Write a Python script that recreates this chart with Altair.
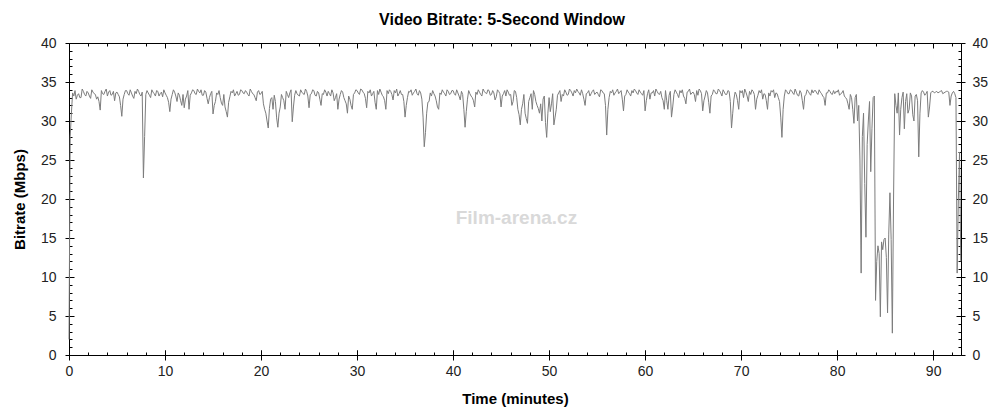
import altair as alt
import pandas as pd

# Video bitrate (Mbps), readings at every 0.25 minute
bitrate = [
    2.0, 31.0, 33.2, 32.8, 33.5, 33.0, 33.8, 33.2, 33.6, 32.9, 33.7, 33.4, 33.1, 31.4, 33.5, 33.8, 33.2, 33.9, 33.4, 32.6,
    33.7, 33.1, 30.6, 33.4, 33.9, 33.3, 33.6, 32.9, 33.5, 33.8, 33.2, 22.7, 33.4, 33.6, 33.0, 33.7, 33.2, 33.8, 33.5, 33.1,
    33.6, 33.0, 31.2, 33.4, 33.7, 32.5, 33.3, 32.0, 31.7, 33.2, 31.5, 33.6, 33.9, 33.4, 33.8, 34.0, 33.3, 33.7, 32.2, 33.5,
    30.9, 32.5, 33.4, 33.0, 32.0, 31.8, 30.5, 33.1, 33.6, 33.2, 33.8, 33.4, 33.9, 33.5, 33.7, 33.2, 33.8, 33.4, 32.6, 33.9,
    33.5, 32.2, 31.0, 29.1, 32.8, 31.5, 32.5, 29.2, 31.8, 33.0, 31.5, 33.4, 33.6, 29.9, 33.3, 33.5, 33.2, 33.7, 33.4, 33.8,
    31.7, 33.5, 33.9, 33.2, 33.6, 32.0, 33.4, 33.7, 33.8, 33.2, 33.6, 33.0, 31.5, 33.4, 33.7, 32.6, 31.0, 32.8, 31.5, 33.6,
    33.9, 33.4, 34.0, 33.5, 31.7, 33.6, 33.2, 33.8, 31.5, 33.4, 33.7, 33.1, 31.5, 33.5, 33.8, 32.7, 33.6, 33.2, 33.9, 33.4,
    30.5, 33.0, 33.7, 33.3, 33.8, 33.5, 33.9, 32.8, 26.7, 31.0, 32.5, 33.2, 33.5, 32.6, 31.5, 33.4, 33.7, 33.2, 33.8, 33.5,
    33.9, 33.3, 33.6, 32.7, 33.4, 29.2, 32.8, 33.5, 33.0, 31.8, 33.4, 33.7, 33.2, 33.8, 33.5, 33.9, 33.4, 33.6, 33.1, 33.8,
    31.8, 33.5, 33.2, 33.7, 33.4, 32.5, 33.8, 31.5, 29.5, 32.2, 31.0, 29.7, 33.0, 31.5, 33.4, 32.0, 31.0, 30.0, 33.2, 27.9,
    33.0, 32.2, 29.5, 31.5, 33.6, 32.5, 33.2, 33.7, 33.4, 33.9, 33.2, 33.6, 33.8, 33.3, 33.5, 32.0, 33.6, 33.2, 33.8, 33.4,
    33.7, 33.1, 33.9, 33.5, 28.2, 33.0, 33.6, 33.3, 33.8, 33.5, 33.9, 31.3, 33.4, 33.7, 33.2, 33.6, 33.9, 33.4, 33.7, 33.3,
    31.3, 33.5, 32.8, 33.6, 33.2, 33.8, 33.4, 33.0, 31.5, 32.6, 33.3, 30.5, 33.4, 33.7, 33.0, 33.6, 33.2, 32.2, 33.8, 33.4,
    33.7, 32.5, 33.3, 33.9, 31.3, 33.2, 33.6, 31.0, 33.4, 33.8, 33.5, 33.9, 33.2, 33.7, 33.4, 33.8, 29.1, 32.8, 33.4, 31.5,
    33.6, 33.0, 33.7, 32.5, 33.4, 33.8, 31.5, 33.3, 33.6, 32.8, 33.4, 31.5, 33.2, 33.7, 33.0, 33.5, 32.5, 27.9, 33.2, 33.8,
    33.5, 33.9, 33.4, 33.7, 33.2, 33.6, 31.5, 33.4, 33.8, 33.3, 33.6, 33.9, 33.4, 33.7, 33.2, 32.0, 33.6, 33.8, 33.4, 33.5,
    33.7, 33.3, 33.6, 33.2, 32.8, 31.5, 33.0, 29.7, 33.4, 32.0, 10.5, 31.0, 15.1, 30.0, 23.5, 33.0, 7.0, 14.0, 4.9, 13.5,
    15.0, 5.4, 20.8, 2.8, 33.5, 31.0, 28.2, 33.0, 29.0, 33.5, 31.5, 33.2, 30.0, 33.4, 25.4, 33.6, 33.7, 33.5, 30.5, 33.6,
    33.8, 33.7, 33.6, 33.8, 33.5, 33.7, 33.8, 32.0, 33.6, 33.5, 10.5, 26.0,
]
# readings half-way between the ones above (at 0.125, 0.375, ... minutes)
bitrate_mid = [
    28.0, 33.6, 33.9, 33.3, 33.0, 34.1, 33.4, 33.8, 33.2, 34.0, 33.5, 32.8, 32.5, 33.9, 33.4, 34.1, 33.7, 33.3, 33.8, 33.6,
    33.4, 32.0, 32.8, 33.9, 33.5, 34.0, 33.2, 33.8, 34.1, 33.4, 33.7, 28.0, 33.9, 33.3, 34.0, 33.5, 33.9, 33.2, 33.7, 34.0,
    33.3, 32.4, 32.8, 34.0, 33.2, 33.6, 32.6, 33.4, 32.8, 33.9, 33.3, 34.0, 33.5, 34.1, 33.6, 33.3, 33.9, 32.9, 33.0, 33.8,
    32.0, 33.6, 33.9, 32.3, 33.4, 31.2, 32.4, 33.8, 34.0, 33.5, 33.3, 34.0, 33.6, 33.9, 33.4, 34.1, 33.5, 33.0, 33.7, 33.4,
    33.8, 31.5, 30.0, 31.6, 33.0, 33.3, 30.4, 31.0, 33.4, 32.6, 33.8, 33.0, 34.0, 31.8, 33.9, 33.3, 34.0, 33.5, 34.1, 33.2,
    33.4, 34.0, 33.3, 33.8, 32.8, 33.5, 34.0, 33.2, 33.5, 34.0, 32.6, 33.5, 32.8, 33.9, 33.0, 32.2, 33.2, 32.0, 33.4, 34.0,
    33.6, 34.1, 33.7, 32.9, 33.8, 34.0, 33.5, 32.4, 33.9, 34.1, 33.3, 32.6, 33.9, 34.0, 33.4, 33.9, 34.1, 33.5, 33.4, 32.5,
    32.0, 33.8, 34.0, 33.6, 34.1, 33.3, 33.6, 30.5, 28.5, 32.4, 33.6, 33.9, 33.2, 31.8, 33.6, 34.0, 33.5, 34.0, 33.4, 33.9,
    33.5, 34.0, 33.2, 33.8, 31.5, 31.2, 33.9, 33.2, 32.6, 33.7, 34.0, 33.4, 34.1, 33.6, 34.0, 33.3, 33.9, 32.7, 34.0, 33.5,
    33.2, 33.9, 34.0, 33.3, 32.0, 33.9, 33.0, 30.8, 31.5, 33.4, 30.3, 32.5, 33.5, 33.9, 32.5, 31.6, 32.2, 32.8, 29.8, 31.0,
    31.2, 33.5, 30.5, 33.3, 33.9, 33.4, 34.0, 33.3, 34.1, 33.6, 33.9, 34.1, 33.6, 34.0, 32.8, 33.5, 33.9, 33.5, 34.0, 33.6,
    33.4, 34.0, 33.6, 32.0, 31.5, 33.8, 34.0, 33.6, 34.1, 33.7, 32.8, 33.2, 34.0, 33.5, 33.9, 34.1, 33.6, 34.0, 33.5, 33.9,
    32.6, 34.0, 33.6, 33.9, 34.1, 33.5, 33.8, 32.6, 33.9, 31.5, 33.8, 31.8, 34.0, 33.4, 33.9, 34.0, 32.9, 33.7, 34.1, 33.6,
    33.4, 33.9, 34.1, 33.5, 32.6, 33.9, 32.4, 33.2, 34.0, 33.5, 34.1, 33.6, 34.0, 33.4, 33.9, 32.5, 31.0, 33.7, 32.6, 33.9,
    33.9, 34.1, 33.2, 33.8, 34.0, 33.4, 32.8, 33.9, 34.0, 33.5, 32.6, 33.6, 33.9, 34.0, 33.6, 33.0, 30.5, 31.5, 34.0, 33.5,
    34.0, 33.6, 34.1, 33.3, 33.9, 32.6, 33.2, 34.0, 33.5, 34.0, 33.9, 33.6, 34.0, 33.5, 33.0, 33.6, 34.0, 33.5, 33.9, 33.8,
    34.0, 33.5, 33.9, 33.0, 32.2, 33.4, 31.5, 33.0, 30.0, 25.0, 28.0, 22.0, 27.0, 32.5, 29.0, 33.2, 12.0, 13.0, 14.5, 14.8,
    12.5, 15.5, 14.8, 20.0, 32.0, 33.6, 31.5, 33.7, 32.5, 31.0, 33.6, 30.8, 33.2, 32.6, 31.0, 33.9, 33.3, 33.8, 31.8, 33.8,
    33.6, 33.8, 33.7, 33.9, 33.6, 33.8, 33.7, 33.2, 33.8, 33.0, 20.0, 12.0,
]
step_minutes = 0.25
minutes = [i * step_minutes for i in range(len(bitrate))]
minutes_mid = [i * step_minutes + step_minutes / 2 for i in range(len(bitrate_mid))]

x_major = [0, 10, 20, 30, 40, 50, 60, 70, 80, 90]
x_minor = [v for v in range(0, 93, 2) if v % 10]
y_major = [0, 5, 10, 15, 20, 25, 30, 35, 40]
y_minor = [v for v in range(1, 40) if v % 5]

watermark_text = ["Film-arena.cz"]
watermark_x = [46.6]
watermark_y = [17.6]

W, H = 892, 312
XD = [0, 92.9]
YD = [0, 40]
FONT = "Liberation Sans"

df = pd.concat([
    pd.DataFrame({"t": minutes, "mbps": bitrate}),
    pd.DataFrame({"t": minutes_mid, "mbps": bitrate_mid}),
]).sort_values("t").reset_index(drop=True)
wm = pd.DataFrame({"t": watermark_x, "mbps": watermark_y, "txt": watermark_text})


def xenc(axis):
    return alt.X("t:Q", scale=alt.Scale(domain=XD, nice=False, zero=False), axis=axis)


def yenc(axis):
    return alt.Y("mbps:Q", scale=alt.Scale(domain=YD, nice=False), axis=axis)


def tick_axis(orient, values, size, offset):
    return alt.Axis(orient=orient, values=values, tickSize=size, offset=offset,
                    labels=False, title="", grid=False, domain=False,
                    ticks=True, tickColor="black", tickWidth=1)


x_main = alt.Axis(orient="bottom", values=x_major, tickSize=5, labels=True,
                  labelFlush=False, labelPadding=4, labelFontSize=14,
                  title="Time (minutes)", titleFontSize=15, titleFontWeight="bold",
                  titlePadding=13, grid=False, domain=False, tickColor="black")
y_main = alt.Axis(orient="left", values=y_major, tickSize=4, labels=True,
                  labelFlush=False, labelPadding=9, labelFontSize=14,
                  title="Bitrate (Mbps)", titleFontSize=15, titleFontWeight="bold",
                  titlePadding=13, grid=False, domain=False, tickColor="black")
y_right = alt.Axis(orient="right", values=y_major, tickSize=4, labels=True,
                   labelFlush=False, labelPadding=7, labelFontSize=14,
                   title="", grid=False, domain=False, tickColor="black")

watermark = alt.Chart(wm).mark_text(
    font=FONT, fontWeight="bold", fontSize=19, color="#d9d9d9"
).encode(
    x=xenc(tick_axis("top", x_major, 5, -H)),
    y=yenc(tick_axis("left", y_minor, 3, -W)),
    text="txt:N",
)

line = alt.Chart(df).mark_line(color="#7c7c7c", strokeWidth=1).encode(
    x=xenc(x_main), y=yenc(y_main)
)

base = alt.Chart(df).mark_line(strokeOpacity=0)
l2 = base.encode(x=xenc(tick_axis("top", x_major, 5, -H)), y=yenc(tick_axis("right", y_major, 5, -W)))
l3 = base.encode(x=xenc(tick_axis("top", x_minor, 3, -H)), y=yenc(tick_axis("right", y_minor, 3, -W)))
l4 = base.encode(x=xenc(tick_axis("bottom", x_major, 5, -H)), y=yenc(y_right))
l5 = base.encode(x=xenc(tick_axis("bottom", x_minor, 3, -H)), y=yenc(tick_axis("left", y_major, 5, -W)))

chart = alt.layer(watermark, line, l2, l3, l4, l5).resolve_axis(
    x="independent", y="independent"
).properties(
    width=W, height=H,
    title=alt.Title("Video Bitrate: 5-Second Window", font=FONT, fontSize=16,
                    fontWeight="bold", color="black", anchor="middle", dx=-13, offset=8),
    padding={"left": 61, "top": 35, "right": 35, "bottom": 57},
    autosize=alt.AutoSizeParams(type="none"),
).configure_axis(
    labelFont=FONT, titleFont=FONT, labelColor="#222222", titleColor="black"
).configure_view(
    stroke="black", strokeWidth=1
)

chart.save("out.html", embed_options={"renderer": "svg", "actions": False})
